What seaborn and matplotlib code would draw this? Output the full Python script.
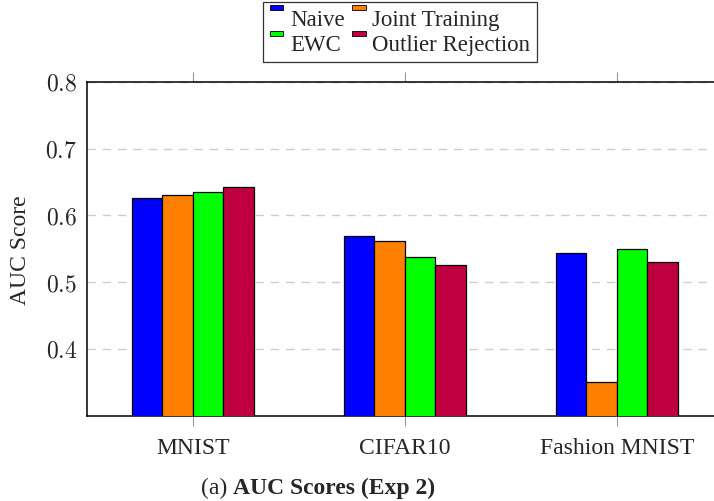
import pandas as pd
import seaborn as sns
import matplotlib.pyplot as plt
from matplotlib.patches import Rectangle
from matplotlib.legend_handler import HandlerPatch

# values
datasets = ['MNIST', 'CIFAR10', 'Fashion MNIST']
methods = ['Naive', 'Joint Training', 'EWC', 'Outlier Rejection']
naive = [0.626, 0.569, 0.543]
joint = [0.631, 0.562, 0.351]
ewc = [0.635, 0.538, 0.550]
outlier = [0.643, 0.525, 0.530]
colors = ['#0000ff', '#ff8000', '#00ff00', '#bf0040']
y_ticks = [0.4, 0.5, 0.6, 0.7, 0.8]

# long-form table for seaborn
rows = []
for method, vals in zip(methods, [naive, joint, ewc, outlier]):
    for ds, v in zip(datasets, vals):
        rows.append({'Dataset': ds, 'Method': method, 'AUC': v})
df = pd.DataFrame(rows)

sns.set_style('white')
plt.rcParams['font.family'] = ['Liberation Serif', 'DejaVu Serif']
plt.rcParams['mathtext.fontset'] = 'cm'
fs = 17

fig = plt.figure(figsize=(7.14, 5.02), dpi=100)
ax = fig.add_axes([86.7 / 714, 85.3 / 502, 636 / 714, 334 / 502])

sns.barplot(data=df, x='Dataset', y='AUC', hue='Method', hue_order=methods,
            palette=colors, width=0.576, gap=0, edgecolor='black',
            linewidth=0.9, saturation=1, legend=False, ax=ax, zorder=3)

ax.set_xlim(-0.5, 2.5)
ax.set_ylim(0.3, 0.8)
ax.set_yticks(y_ticks)
ax.set_yticklabels(['$%.1f$' % t for t in y_ticks])
ax.set_xlabel('')
ax.set_ylabel('AUC Score', fontsize=fs, labelpad=10)

# dashed grid and pgfplots-like ticks
ax.yaxis.grid(True, linestyle=(0, (6, 5)), color='#cccccc', linewidth=1, zorder=0)
ax.set_axisbelow(True)
ax.tick_params(axis='y', length=0, pad=7, labelsize=fs)
ax.tick_params(axis='x', which='both', direction='out', length=7, width=0.8,
               color='#999999', top=True, bottom=True, pad=8, labelsize=fs)
for s in ax.spines.values():
    s.set_color('black')
    s.set_linewidth(1.1)

# legend with small bars at the top left of each entry
def small_bar(legend, orig_handle, xdescent, ydescent, width, height, fontsize):
    return Rectangle((-xdescent, -ydescent + height * 0.9), width, height * 0.3)

handles = [Rectangle((0, 0), 1, 1, facecolor=c, edgecolor='black', linewidth=0.6)
           for c in colors]
order = [0, 2, 1, 3]
leg = fig.legend([handles[i] for i in order], [methods[i] for i in order],
                 loc='upper center', bbox_to_anchor=(400 / 714, 1 - 2.7 / 502),
                 ncol=2, frameon=True, fancybox=False, edgecolor='black',
                 fontsize=16.5, handlelength=0.6, handleheight=0.7,
                 handletextpad=0.3, columnspacing=0.3, labelspacing=0.2,
                 borderpad=0.3, borderaxespad=0,
                 handler_map={Rectangle: HandlerPatch(patch_func=small_bar)})
leg.get_frame().set_linewidth(0.9)

# caption under the chart
fig.text(227 / 714, 14 / 502, '(a)', ha='right', va='center', fontsize=fs)
fig.text(233 / 714, 14 / 502, 'AUC Scores (Exp 2)', ha='left', va='center',
         fontsize=fs, fontweight='bold')

fig.savefig('out.png', dpi=100)
